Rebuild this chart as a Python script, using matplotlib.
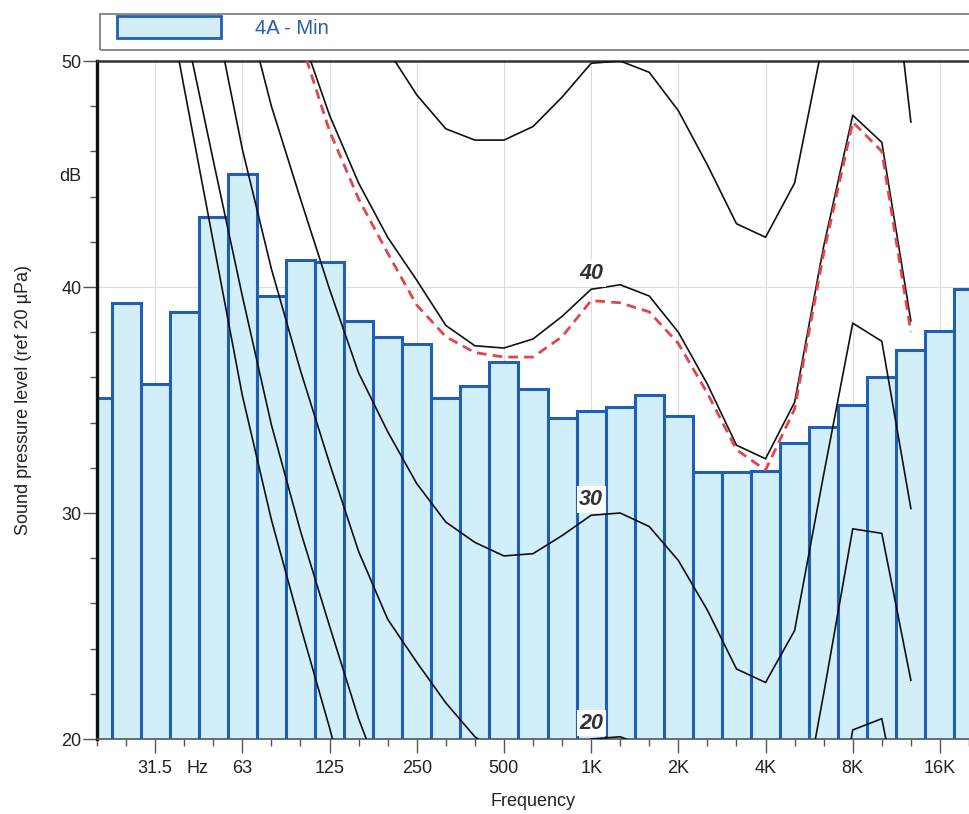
import matplotlib
matplotlib.use("Agg")
import matplotlib.pyplot as plt
import numpy as np
from matplotlib.patches import Rectangle

plt.rcParams["font.family"] = ["Liberation Sans", "DejaVu Sans"]

nan = np.nan

# third-octave band centres, 20 Hz .. 20 kHz
bands = ["20", "25", "31.5", "40", "50", "63", "80", "100", "125", "160",
         "200", "250", "315", "400", "500", "630", "800", "1K", "1.25K", "1.6K",
         "2K", "2.5K", "3.15K", "4K", "5K", "6.3K", "8K", "10K", "12.5K",
         "16K", "20K"]
octave_labels = ["31.5", "63", "125", "250", "500", "1K", "2K", "4K", "8K", "16K"]

# measured spectrum "4A - Min" (dB re 20 uPa)
level_4a_min = [35.1, 39.3, 35.7, 38.9, 43.1, 45.0, 39.6, 41.2, 41.1, 38.5,
                37.8, 37.5, 35.1, 35.6, 36.7, 35.5, 34.2, 34.5, 34.7, 35.2,
                34.3, 31.8, 31.8, 31.85, 33.1, 33.8, 34.8, 36.0, 37.2, 38.05,
                39.9]

# loudness contours, one value per band up to 12.5 kHz (nan = not drawn)
contour_0 = [nan, nan, 55.7, 48.8, 42.0, 35.2, 29.7, 25.0, 20.5, 15.6,
             nan, nan, nan, nan, nan, nan, nan, nan, nan, nan,
             nan, nan, nan, nan, nan, nan, nan, nan, nan]
contour_10 = [nan, nan, nan, 51.7, 45.6, 39.6, 33.9, 29.2, 25.0, 20.9,
              17.5, nan, nan, nan, nan, nan, nan, nan, nan, nan,
              nan, nan, nan, nan, nan, 13.0, 20.4, 20.9, 14.5]
contour_20 = [nan, nan, nan, nan, 52.5, 46.1, 40.8, 36.3, 32.2, 28.3,
              25.3, 23.4, 21.6, 20.1, 19.2, 18.8, 19.2, 20.0, 20.1, 19.6,
              18.0, 15.8, 13.2, 12.6, 15.0, 22.0, 29.3, 29.1, 22.6]
contour_30 = [nan, nan, nan, nan, nan, 53.0, 48.0, 43.9, 39.9, 36.2,
              33.6, 31.3, 29.6, 28.7, 28.1, 28.2, 29.0, 29.9, 30.0, 29.4,
              27.9, 25.7, 23.1, 22.5, 24.8, 31.7, 38.4, 37.6, 30.2]
contour_40 = [nan, nan, nan, nan, nan, nan, 55.5, 51.3, 47.6, 44.6,
              42.2, 40.3, 38.3, 37.4, 37.3, 37.7, 38.7, 39.9, 40.1, 39.6,
              38.0, 35.7, 33.0, 32.4, 34.9, 41.8, 47.6, 46.4, 38.5]
contour_50 = [nan, nan, nan, nan, nan, nan, nan, nan, nan, 54.5,
              50.5, 48.5, 47.0, 46.5, 46.5, 47.1, 48.4, 49.9, 50.0, 49.5,
              47.8, 45.4, 42.8, 42.2, 44.6, 51.0, 59.0, 58.5, 47.3]
# red dashed reference curve
criterion = [nan, nan, nan, nan, nan, nan, 55.0, 50.9, 46.9, 43.9,
             41.5, 39.2, 37.8, 37.1, 36.9, 36.9, 37.8, 39.4, 39.3, 38.9,
             37.5, 35.3, 32.8, 31.9, 34.6, 41.5, 47.3, 46.0, 38.0]

BAR_FACE = "#d2eff9"
BAR_EDGE = "#1f5fb6"

W, H = 969, 814
fig = plt.figure(figsize=(W / 100, H / 100), dpi=100)
ax = fig.add_axes([97 / W, 75 / H, 872 / W, 678 / H])

idx = np.arange(len(bands))
ax.bar(idx, level_4a_min, width=1.0, color=BAR_FACE, edgecolor=BAR_EDGE,
       linewidth=2.2, zorder=2)

cx = np.arange(len(contour_20))
for c in (contour_0, contour_10, contour_20, contour_30, contour_40, contour_50):
    ax.plot(cx, c, color="#111111", lw=1.2, zorder=3)
ax.plot(cx, criterion, color="#e2454f", lw=2.0, ls=(0, (3.5, 2.2)), zorder=3)

# contour labels at 1 kHz
k = bands.index("1K")
for lev, c in ((20, contour_20), (30, contour_30), (40, contour_40)):
    ax.text(k, c[k] + 0.7, str(lev), ha="center", va="center", fontsize=15.5,
            fontweight="bold", style="italic", color="#333333", zorder=4,
            bbox=dict(boxstyle="square,pad=0.12", fc="white", ec="none"))

ax.set_xlim(0, (W - 97) / 29.17)
ax.set_ylim(20, 50)

# x ticks: octave labels, plus "Hz" between 31.5 and 63
oct_pos = [bands.index(b) for b in octave_labels]
xt = oct_pos[:1] + [3.45] + oct_pos[1:]
xl = octave_labels[:1] + ["Hz"] + octave_labels[1:]
ax.set_xticks(xt)
ax.set_xticklabels(xl)
ax.set_xticks(idx, minor=True)
ax.xaxis.get_major_ticks()[1].tick1line.set_visible(False)

ax.set_yticks([20, 30, 40, 45, 50])
ax.set_yticklabels(["20", "30", "40", "dB", "50"])
ax.set_yticks(np.arange(22, 50, 2), minor=True)
ax.yaxis.get_major_ticks()[3].tick1line.set_visible(False)

ax.tick_params(which="major", length=10, width=1.0, color="#555555",
               labelsize=13, labelcolor="#222222")
ax.tick_params(which="minor", length=5, width=1.0, color="#555555")
ax.tick_params(axis="x", pad=5)
ax.tick_params(axis="y", pad=1)

ax.set_axisbelow(True)
ax.grid(True, which="major", color="#dcdcdc", lw=0.8)
ax.yaxis.get_gridlines()[3].set_visible(False)
ax.xaxis.get_gridlines()[1].set_visible(False)

ax.spines["right"].set_visible(False)
ax.spines["left"].set_linewidth(2.4)
ax.spines["left"].set_color("#111111")
ax.spines["top"].set_linewidth(1.8)
ax.spines["top"].set_color("#333333")
ax.spines["bottom"].set_linewidth(1.2)
ax.spines["bottom"].set_color("#555555")

ax.set_xlabel("Frequency", fontsize=13, color="#222222")
ax.xaxis.set_label_coords(0.5, -0.08)
ax.set_ylabel("Sound pressure level (ref 20 \u00b5Pa)", fontsize=13,
              color="#222222")
ax.yaxis.set_label_coords(-0.075, 0.5)

# legend strip above the plot
fig.patches.append(Rectangle((100 / W, (H - 50) / H), 1.0, 36 / H,
                             transform=fig.transFigure, fill=False,
                             ec="#777777", lw=1.2))
fig.patches.append(Rectangle((117 / W, (H - 38) / H), 104 / W, 22 / H,
                             transform=fig.transFigure, fc=BAR_FACE,
                             ec=BAR_EDGE, lw=2.0))
fig.text(255 / W, (H - 28) / H, "4A - Min", fontsize=14.5, color="#2a5cb0",
         ha="left", va="center")

fig.savefig("out.png", dpi=100)
